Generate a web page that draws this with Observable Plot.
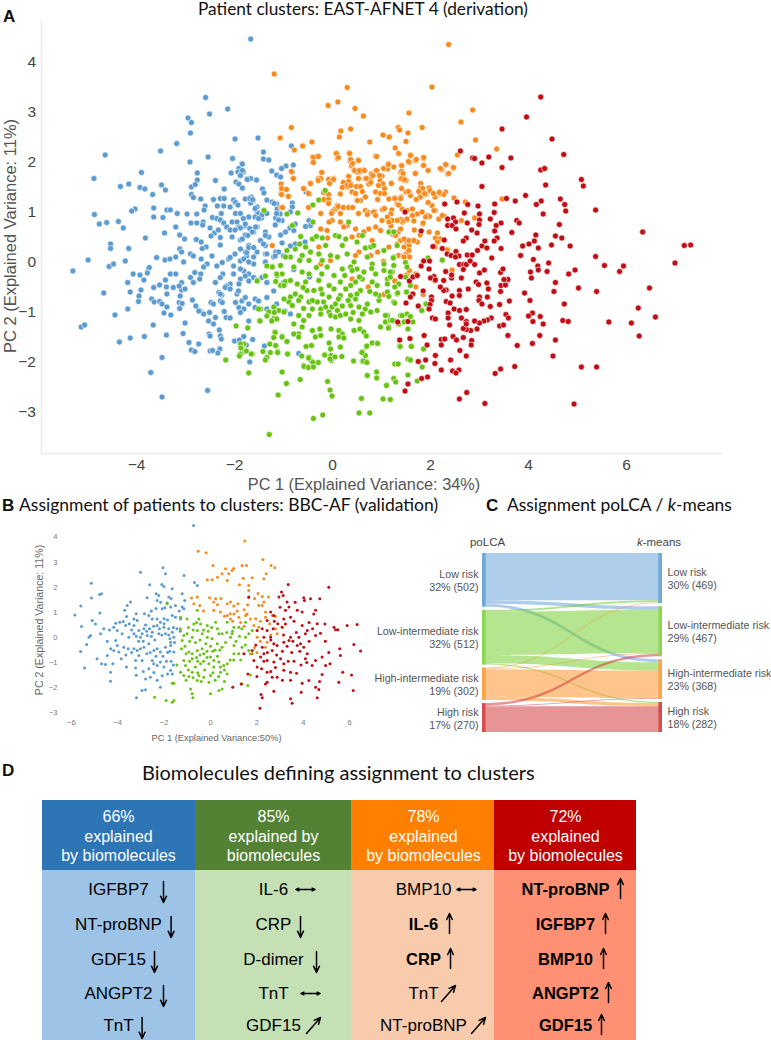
<!DOCTYPE html>
<html><head><meta charset="utf-8">
<script src="https://cdn.jsdelivr.net/npm/d3@7"></script>
<script src="https://cdn.jsdelivr.net/npm/@observablehq/plot@0.6"></script>
<style>
html,body{margin:0;padding:0;background:#fff}
#page{position:relative;width:771px;height:1040px;overflow:hidden;background:#fff}
.t{position:absolute;white-space:nowrap;font-family:Lato,sans-serif;color:#111;line-height:1}
.l{position:absolute;white-space:nowrap;font-family:"Liberation Sans",Arial,sans-serif;font-weight:700;color:#111;line-height:1}
</style></head><body><div id="page">
<div class="l" style="left:3px;top:8px;font-size:17px">A</div>
<div class="t" style="left:198px;top:0px;font-size:17.25px">Patient clusters: EAST-AFNET 4 (derivation)</div>
<div class="l" style="left:2px;top:497px;font-size:17px">B</div>
<div class="t" style="left:19px;top:496px;font-size:17.5px">Assignment of patients to clusters: BBC-AF (validation)</div>
<div class="l" style="left:486px;top:497px;font-size:17px">C</div>
<div class="t" style="left:507px;top:496px;font-size:17.4px">Assignment poLCA / <i>k</i>-means</div>
<div class="l" style="left:2px;top:762px;font-size:17px">D</div>
<div class="t" style="left:142px;top:762px;font-size:20px">Biomolecules defining assignment to clusters</div>
</div>
<script>
// ---------- Panel A: EAST-AFNET 4 (PC1, PC2) ----------
const lowRiskA=[[-1.67,4.47],[-2.59,3.3],[-2.51,2.97],[-2.14,3.07],[-2.95,2.89],[-2.88,2.8],[-2.9,2.59],[-3.18,2.38],[-1.99,2.47],[-1.52,2.49],[-3.51,2.23],[-4.64,2.15],[-2.54,2.11],[-2.91,2.01],[-2.04,2.08],[-1.85,1.98],[-1.41,2.21],[-1.41,2.07],[-1.3,2.05],[-.84,2.33],[-.8,1.95],[-.95,1.93],[-1.04,1.88],[-1.24,1.83],[-.82,1.81],[-1.14,1.75],[-1.06,1.71],[-4.87,1.68],[-3.9,1.8],[-2.76,1.79],[-2.76,1.65],[-2.07,1.79],[-1.91,1.88],[-1.93,1.81],[-1.82,1.81],[-1.88,1.75],[-4.33,1.52],[-4.16,1.57],[-3.93,1.5],[-3.83,1.47],[-3.49,1.55],[-3.41,1.45],[-2.39,1.64],[-1.97,1.61],[-1.91,1.57],[-1.75,1.67],[-1.67,1.68],[-1.56,1.65],[-2.88,1.51],[-2.8,1.56],[-1.84,1.48],[-2.21,1.47],[-3.67,1.36],[-2.88,1.36],[-2.84,1.3],[-2.69,1.27],[-2.43,1.26],[-2.29,1.28],[-2.21,1.28],[-2.02,1.25],[-1.98,1.2],[-1.93,1.15],[-2.6,1.13],[-2.62,1.05],[-2.35,1.13],[-2.22,1.13],[-2.09,1.11],[-1.98,.98],[-1.88,.98],[-2.27,.98],[-2.45,.9],[-2.36,.88],[-2.29,.85],[-2.22,.79],[-2.16,.71],[-2.05,.81],[-1.95,.81],[-1.91,.71],[-1.79,.73],[-1.69,.68],[-1.54,.71],[-1.61,.61],[-3.17,.98],[-3.38,1.05],[-3.31,1.05],[-3.46,.9],[-3.65,.91],[-3.65,1.09],[-4.03,1.07],[-4.1,1.03],[-4.86,.96],[-4.76,.77],[-4.61,.8],[-4.37,.82],[-4.27,.69],[-2.97,.97],[-2.77,.97],[-2.89,.79],[-2.77,.79],[-2.64,.81],[-2.65,.75],[-3.43,.59],[-3.2,.71],[-3.12,.55],[-3.02,.47],[-3.82,.49],[-2.5,.69],[-2.41,.59],[-2.48,.53],[-2.33,.65],[-2.78,.46],[-2.68,.41],[-2.05,.51],[-1.88,.45],[-1.78,.55],[-2.29,.5],[-2.29,.35],[-2.58,.31],[-2.66,.28],[-3.11,.28],[-4.16,.28],[-4.53,.37],[-4.53,.28],[-5.3,-.17],[-4.99,.05],[-4.56,-.08],[-4.47,-.03],[-4.23,.03],[-3.59,.1],[-3.42,.05],[-3.32,.07],[-3.2,.11],[-3.04,.01],[-3.12,.27],[-3.08,.21],[-3.76,-.13],[-3.74,-.1],[-4.07,-.23],[-3.93,-.25],[-3.78,-.21],[-3.85,-.35],[-4.18,-.4],[-4.67,-.61],[-4.13,-.59],[-3.91,-.55],[-3.95,-.67],[-3.96,-.78],[-4.18,-.93],[-4.44,-1.05],[-3.65,-.5],[-3.53,-.45],[-3.41,-.35],[-3.31,-.23],[-3.2,-.23],[-3.39,-.49],[-3.25,-.5],[-3.38,-.63],[-3.69,-.73],[-3.64,-.79],[-3.53,-.78],[-3.48,-.83],[-3.44,-1.01],[-3.3,-1.05],[-3.38,-.89],[-3.13,-.8],[-3.07,-.82],[-3.12,-.92],[-3.11,-.67],[-3.08,-.55],[-3.01,-.53],[-3.08,-.4],[-3.13,-.47],[-5.13,-1.29],[-5.06,-1.25],[-3.66,-1.25],[-4.35,-1.59],[-4.13,-1.51],[-3.84,-1.48],[-3.39,-1.45],[-3.05,-1.42],[-3.01,-1.21],[-2.93,-1.6],[-2.73,-1.63],[-2.88,-1.75],[-2.81,-1.78],[-3.48,-1.9],[-3.71,-2.2],[-3.48,-2.69],[-2.55,-2.56],[-2.5,-1.77],[-2.45,-1.76],[-2.3,-1.73],[-2.34,-1.81],[-2.52,-1.43],[-2.5,-1.47],[-2.31,-1.35],[-2.29,-1.47],[-2.27,-1.53],[-2.43,-1.23],[-2.53,-1.17],[-2.39,-1.1],[-2.51,-1],[-2.7,-.98],[-2.63,-1.03],[-2.21,-.98],[-2.17,-1.1],[-2.09,-1.11],[-2.86,-.75],[-2.79,-.87],[-2.73,-.97],[-2.48,-.8],[-2.43,-.83],[-2.32,-.6],[-2.26,-.65],[-2.29,-.77],[-2.25,-.8],[-2,-1.57],[-1.9,-1.55],[-1.81,-1.48],[-1.76,-1.65],[-1.63,-1.54],[-1.71,-1.17],[-1.84,-1.8],[-1.69,-1.99],[-1.39,-1.67],[-.69,-1.82],[-2.9,.17],[-2.84,.13],[-2.68,.07],[-2.56,-.03],[-2.46,.13],[-2.63,-.09],[-2.81,-.2],[-2.69,-.23],[-2.9,-.3],[-2.84,-.4],[-2.71,-.33],[-2.36,-.07],[-2.25,0],[-2.12,.07],[-2.24,-.23],[-2.29,-.3],[-2.39,-.4],[-2.09,-.43],[-2.16,-.47],[-2.19,-.5],[-2.09,-.53],[-1.88,-.33],[-1.91,-.43],[-1.95,-.63],[-1.85,-.77],[-1.98,-.8],[-1.91,-.9],[-1.81,-.93],[-1.71,-.83],[-1.58,-.73],[-1.51,-.77],[-1.58,-.9],[-1.34,-.93],[-1.34,-.7],[-1.2,-.57],[-1.78,-.7],[-1.88,-1],[-2.29,-.63],[-2.02,-.07],[-1.88,.03],[-1.75,.13],[-1.61,-.03],[-1.81,-.17],[-1.71,-.23],[-1.34,-.4],[-1,-.4],[-.97,-.97],[-1.14,-.83],[-.86,-1.03],[-1.74,1.66],[-1.55,1.65],[-1.84,1.97],[-1.84,1.84],[-1.88,1.74],[-1.43,1.47],[-1.4,1.39],[-1.84,1.49],[-.47,1.37],[-.54,1.41],[-1.78,1.27],[-1.66,1.31],[-1.62,1.24],[-1.67,1.19],[-1.57,1.07],[-1.54,.99],[-1.45,.89],[-1.23,1.21],[-1.14,1.17],[-1.13,1.07],[-1.07,.97],[-1.16,.89],[-1.03,.84],[-1.16,.76],[-.82,1.19],[-.82,1.11],[-.86,1.01],[-.48,.84],[-.45,.74],[-.55,.72],[-.76,.77],[-.87,.69],[-.96,.61],[-.79,.64],[-1.78,.77],[-1.88,.69],[-1.57,.71],[-1.64,.61],[-1.73,.54],[-1.37,.61],[-1.3,.51],[-1.47,.44],[-1.37,.34],[-1.37,.54],[-1.06,.55],[-1.03,.39],[-.76,.37],[-.56,.41],[-1.84,.47],[-1.71,.34],[-1.78,.21],[-1.81,.07],[-1.54,.21],[-1.61,.11],[-1.37,.17],[-1.2,.11],[-1.16,.21],[-1.1,.21],[-1.37,.01],[-1.71,.01],[-.79,-.14],[-.47,-.29],[-1.69,1.28],[-1.63,1.26],[-1.54,1.11],[-1.51,.98],[-1.58,1.08],[-1.44,.95],[-1.34,1.25],[-1.19,1.18],[-1.14,.98],[-1.1,.85],[-1.17,.75],[-1.34,.98],[-1.58,.91],[-1.51,.88],[-2.09,.65],[-1.99,.65],[-1.71,.91],[-1.82,.88],[-1.75,.2],[-1.99,.17],[-1.88,.27],[-1.71,.3],[-2.09,.1],[-1.61,.3],[-1.41,.37],[-1.34,.17],[-1.17,.13],[-1,.13],[-.86,.33],[-2.02,-.23],[-1.88,-.13],[-1.78,-.27],[-1.61,-.3],[-1.44,-.3],[-1.92,-.57],[-1.71,-.37]];
const highInterA=[[-1.19,3.77],[.3,3.5],[-.09,3.14],[.11,3.21],[.46,3.08],[.63,2.93],[-.84,2.7],[.17,2.63],[.37,2.67],[.14,2.51],[-1.07,2.49],[-.42,2.41],[-.61,2.33],[.76,2.41],[1.03,2.55],[1.14,2.51],[-.78,2.25],[.07,2.18],[.1,2.08],[.34,2.19],[.88,2.13],[-.41,2.11],[-.3,2.13],[-.4,2],[.36,2.03],[.53,2.05],[.39,1.93],[.63,1.85],[.55,1.81],[.44,1.85],[1.14,1.98],[.9,1.83],[.84,1.75],[1.01,1.73],[.67,1.68],[.53,1.68],[.77,1.68],[-.22,1.8],[-.29,1.68],[-.08,1.67],[.02,1.68],[-.05,1.6],[-.8,1.68],[-1.05,1.57],[-.46,1.58],[-.59,1.48],[-.49,1.38],[-1.05,1.38],[-.91,1.33],[-1.05,1.1],[.88,1.83],[.97,1.65],[1.03,1.57],[1.12,1.87],[1.25,1.91],[.74,1.57],[.5,1.81],[.37,1.57],[.3,1.51],[.79,1.77],[.4,1.41],[.16,1.37],[.1,1.14],[.06,1.07],[.57,1.24],[.67,1.31],[.5,1.24],[.88,1.41],[1.15,1.27],[1.32,1.17],[1.42,1.07],[1.52,1.04],[1.63,1.07],[1.73,.97],[1.83,1.01],[2.03,1.14],[1.93,.94],[2.1,1.04],[2.31,1.41],[2.2,1.37],[2.37,4.36],[2.03,3.51],[1.56,2.99],[2.86,3.05],[2.62,2.81],[1.83,2.7],[1.34,2.7],[1.37,2.65],[1.54,2.59],[1.16,2.51],[1.5,2.42],[2.92,2.45],[3.35,2.27],[1.28,2.29],[1.35,2.18],[2.55,2.15],[1.6,2.15],[1.57,2],[1.69,2.04],[1.86,2.08],[1.85,1.94],[1.95,1.84],[1.15,1.97],[1.41,1.93],[2.23,1.86],[2.32,1.95],[2.46,1.89],[2.35,1.77],[1.7,1.79],[1.39,1.8],[1.43,1.75],[1.39,1.67],[1.46,1.64],[1.5,1.64],[1.2,1.59],[1.8,1.58],[1.8,1.49],[1.97,1.49],[1.99,1.44],[1.9,1.36],[1.79,1.31],[1.71,1.26],[1.5,1.41],[1.59,1.34],[1.27,1.29],[1.4,1.31],[2.18,1.41],[2.27,1.36],[2.09,1.31],[1.95,1.2],[2.48,1.29],[2.71,1.21],[3.46,1.27],[1.35,1.15],[1.21,1.05],[1.19,.97],[2.07,1.04],[1.98,.92],[1.9,.91],[1.63,.94],[2.28,.93],[2.17,.86],[1.39,.86],[1.52,.85],[1.66,.83],[1.43,.81],[1.22,.84],[2.63,.84],[2.9,.89],[1.97,.61],[1.67,.65],[1.84,.77],[2.14,.59],[1.79,.55],[2.1,.49],[2.2,.47],[2.14,.41],[1.19,.73],[1.22,.57],[1.34,.61],[1.29,.54],[1.39,.44],[1.52,.39],[1.65,.44],[1.73,.41],[2.1,.31],[2.35,.26],[2.09,.31],[2.34,.25],[2.44,-.15],[2.09,-.37],[1.85,-.64],[1.7,-.49],[1.7,-.23],[1.51,-.25],[1.57,-.16],[1.49,.31],[1.5,.17],[1.56,.34],[1.35,.14],[1.44,.13],[1.57,.11],[1.27,-.36],[-.39,2.1],[-.29,2.12],[-.39,2],[.08,2.18],[.12,2.1],[.35,2.18],[.37,2.06],[.41,1.98],[.53,2.04],[.9,2.12],[1.59,2.14],[1.71,2.06],[1.86,2.1],[1.86,1.94],[1.55,2.02],[1.41,1.94],[1.14,1.96],[1.04,1.88],[.45,1.84],[.55,1.84],[.65,1.84],[.9,1.84],[.82,1.74],[.96,1.74],[1.41,1.82],[1.44,1.78],[1.41,1.68],[1.47,1.66],[1.69,1.78],[2.31,1.96],[2.2,1.88],[2.37,1.78],[2.47,1.9],[-.22,1.8],[-.24,1.68],[-.29,1.64],[-.45,1.58],[-.08,1.66],[.02,1.66],[-.06,1.58],[.33,1.72],[.22,1.6],[.33,1.62],[.29,1.54],[.2,1.5],[.37,1.54],[.69,1.68],[.78,1.6],[.49,1.52],[.57,1.52],[.61,1.42],[.47,1.38],[1.2,1.58],[.94,1.54],[1.06,1.48],[.98,1.38],[1.06,1.38],[.92,1.26],[1.41,1.48],[1.27,1.28],[1.39,1.28],[1.84,1.48],[1.76,1.42],[1.55,1.42],[1.88,1.38],[2.06,1.38],[2.18,1.4],[-1.04,1.48],[-.94,1.46],[-1.04,1.36],[-.9,1.32],[-.84,1.82],[-.8,1.68],[-.59,1.48],[-.18,1.4],[-.08,1.36],[-.18,1.26],[-.08,1.26],[-.08,1.18],[.12,1.12],[.22,1.1],[.33,1.1],[.51,1.24],[.41,1.1],[0,1.02],[.53,.98],[.67,1.04],[.73,1],[.86,1.02],[1.02,1.06],[1.06,1.08],[-.49,1.1],[-.24,.98],[-.02,.98],[.16,.98],[-1.02,1.1],[.71,.96],[.84,1.01],[.88,.94],[1.01,.84],[1.12,.91],[1.15,.81],[1.32,.84],[1.46,.84],[1.52,.87],[1.85,.79],[2.17,.87],[2.24,.94],[1.39,.67],[1.18,.61],[.98,.64],[.88,.71],[.74,.67],[.64,.61],[.47,.67],[.3,.74],[.23,.71],[.16,.81],[-.01,.84],[-.07,.81],[-.11,.64],[-.24,.67],[.4,.51],[.54,.54],[.81,.44],[1.15,.31],[1.32,.37],[1.46,.47],[1.56,.44],[1.66,.44],[1.46,.31],[1.56,.24],[1.46,.11],[.54,.21],[.47,.14],[-.04,.04],[-.24,-.03],[-.1,.49],[-.28,.31],[-1.23,.34],[.4,-.33],[1.05,-.64],[.73,-.49],[1.27,-.37],[1.04,.02],[.78,.14],[.92,.21]];
const lowInterA=[[-1.4,1.04],[-.93,.97],[-.71,.99],[-.82,.74],[-.4,1.15],[-.28,1.25],[-.15,1.44],[.33,.81],[-.4,.81],[-.65,.52],[-.76,.27],[-.67,.37],[-.55,.31],[-.41,.47],[-.33,.52],[-.21,.49],[-.14,.34],[.06,.54],[.13,.52],[.2,.34],[.27,.47],[.5,.41],[.61,.54],[.67,.29],[.78,.31],[.84,.34],[1.15,.61],[1.25,.61],[1.05,.24],[1.25,.11],[1.32,.34],[1.95,.09],[2.24,.04],[-.93,.24],[-.86,.11],[-.62,.14],[-.45,.21],[-.28,.17],[-.04,.14],[.1,.11],[.3,.17],[.44,.01],[-.21,.04],[-.48,.04],[-1.23,-.08],[-1.06,-.06],[-.96,.11],[-.67,.04],[.71,.11],[.81,-.03],[1.05,-.03],[-1.23,-.09],[-1.03,-.23],[-1.13,-.26],[-.79,-.09],[-.62,-.19],[-.48,-.23],[-.11,-.09],[.03,-.26],[.2,-.13],[.37,-.09],[.5,-.13],[.64,-.19],[.88,-.23],[1.05,-.16],[1.22,-.19],[-1.54,-.35],[-1.16,-.38],[-1.06,-.46],[-.96,-.38],[-.99,-.46],[-.86,-.36],[-.72,-.43],[-.55,-.39],[-.28,-.36],[-.07,-.46],[.03,-.53],[.16,-.39],[.37,-.46],[.47,-.39],[.61,-.33],[.81,-.39],[.91,-.46],[1.12,-.33],[1.35,-.43],[1.32,-.63],[-1.47,-.93],[-1.3,-.99],[-1.2,-1.12],[-1.1,-.96],[-.99,-.99],[-.86,-.69],[-.76,-.63],[-.65,-.69],[-.89,-.79],[-.69,-.76],[-.59,-.92],[-.48,-.79],[-.41,-.93],[-.31,-.79],[-.21,-.63],[-.18,-.79],[-.24,-.93],[-.24,-1.03],[-.14,-.89],[-.07,-.99],[-.01,-.89],[.06,-.83],[.1,-.96],[.16,-.66],[-.07,-.69],[-.04,-1.06],[.06,-1.09],[.16,-1.06],[.27,-1.03],[.37,-.86],[.47,-.73],[.54,-.89],[.67,-.93],[.71,-.83],[.61,-1.03],[.37,-1.13],[.54,-1.16],[.78,-.99],[.95,-.76],[1.12,-1.06],[1.25,-1.16],[1.39,-1.06],[1.08,-1.19],[.98,-1.29],[1.15,-1.29],[1.25,-.79],[1.83,-.96],[1.9,-.83],[-.69,-1.06],[-.59,-1.16],[-.48,-1.06],[-.79,-1.23],[-.62,-1.29],[-.41,-1.36],[-.26,-1.33],[-.69,-1.43],[-.79,-1.43],[-.69,-1.49],[-.35,-1.49],[-.24,-1.46],[-.03,-1.33],[.13,-1.36],[.2,-1.43],[.13,-1.49],[.23,-1.51],[.44,-1.36],[.56,-1.33],[.64,-1.39],[.69,-1.47],[-.07,-1.61],[-.43,-1.66],[-.54,-1.68],[-.04,-1.73],[.16,-1.69],[-.16,-1.84],[-.03,-1.86],[-.03,-1.96],[.61,-1.79],[.69,-1.69],[.81,-1.61],[.91,-1.61],[.67,-1.86],[.61,-1.98],[.69,-1.98],[-1.18,-1.39],[-1.2,-1.49],[-1.03,-1.47],[-1.28,-1.63],[-1.16,-1.66],[-.93,-1.58],[-1.42,-1.78],[-1.12,-1.78],[-.91,-1.83],[-.59,-2.06],[-.48,-2.09],[-.39,-2.05],[-.29,-2],[-.48,-1.89],[-.44,-1.96],[1.37,-1.67],[1.61,-1.67],[1.86,-1.73],[-1.49,-1.16],[-1.73,-1.3],[-1.81,-1.63],[-1.86,-1.69],[-1.64,-1.83],[-1.88,-1.83],[.91,-.96],[1.08,-1.06],[1.18,-1.16],[1.46,-1.19],[1.52,-1.03],[1.59,-.46],[1.49,-.29],[1.12,-.59],[.95,-.66],[.57,-.56],[.37,-.66],[.88,-.63],[.76,-.58],[.5,-.63],[.27,-.53],[-.38,-.56],[-.52,-.56],[-.24,-.53],[-.41,-.76],[-.82,-.86],[-.99,-.73],[-1.2,-.89],[1.24,.09],[1.95,.09],[2.24,.05],[1.42,-1.06],[1.59,-1.08],[1.64,-1.19],[1.35,-1.23],[1.22,-1.16],[1.14,-1.31],[1.54,-1.33],[1.82,-.96],[1.91,-.83],[1.51,-.59],[1.33,-.61],[1.15,-.68],[1.27,-.81],[1.38,-1.68],[1.61,-1.68],[1.86,-1.73],[1.27,-2.03],[1.34,-2.03],[1.54,-1.93],[1.59,-1.95],[1.83,-2.09],[1.54,-2.25],[1.73,-2.37],[1.25,-2.32],[1.29,-2.39],[1.11,-2.45],[1.35,-.43],[1.27,-.49],[1.18,-.19],[1.18,-.29],[1.12,-.43],[1.25,-.06],[1.49,0],[1.52,-.09],[-1.97,-1.27],[-1.73,-1.31],[-1.51,-.93],[-1.48,-1.17],[-1.34,-1.07],[-1.19,-1],[-1.14,-1.13],[-1.24,-1.17],[-1.17,-1.4],[-1.2,-1.5],[-1.03,-1.49],[-.93,-1.58],[-1.34,-1.9],[-1.27,-1.8],[-1.37,-1.95],[-1.12,-1.8],[-.92,-1.83],[-.63,-1.87],[-.49,-1.91],[-.4,-2],[-.58,-2.08],[-.49,-2.1],[-.39,-2.09],[-.16,-1.85],[-.05,-1.93],[.05,-1.89],[.19,-1.88],[.43,-1.97],[.6,-1.8],[.7,-1.67],[.92,-1.62],[.63,-1.97],[.7,-2],[-1.88,-1.63],[-1.76,-1.77],[-1.87,-1.71],[-1.54,-.37],[-1.37,-.27],[-1.34,-.07],[-1.14,-.23],[-1.29,-3.44],[-.39,-3.12],[-.2,-3.05],[-1.11,-2.65],[-.94,-2.42],[-.66,-2.34],[-1.03,-2.19],[-1.71,-2.21],[-2.18,-1.95],[-1.9,-1.87],[-1.66,-1.83],[-.1,-2.38],[-.05,-2.55],[-.01,-2.67],[.54,-3.01],[.76,-3.01],[.59,-2.72],[.71,-2.26],[.9,-2.19],[.9,-2.31],[1.1,-2.46],[1.03,-2.73],[1.18,-2.74],[.4,-.16],[.55,-.29],[.25,-.26],[.8,-.12],[-.33,-.1],[-.22,-.23],[-.6,-.5],[.12,-.73],[.32,-.76],[.42,-1.0],[.2,-.87]];
const highRiskA=[[4.25,3.31],[3.96,2.91],[3.46,2.67],[4.48,2.47],[4.72,2.16],[2.61,2.23],[2.86,2.09],[2.9,2.08],[3.05,1.99],[3.19,2.11],[3.64,2.09],[3.46,1.9],[4.25,1.85],[4.33,1.88],[5.08,1.66],[5.12,1.53],[4.35,1.55],[3.05,1.52],[3.94,1.34],[3.55,1.28],[3.73,1.23],[4.16,1.16],[4.26,1.23],[4.65,1.27],[4.74,1.16],[4.76,1.03],[4.3,.97],[5.37,1.05],[4.63,.76],[6.33,.61],[4.55,.53],[4.68,.49],[4.15,.55],[3.66,.6],[3.76,.84],[3.81,.79],[3.44,.79],[3.34,.74],[3.31,.63],[3.22,.87],[3.31,1.17],[3.3,1],[3,.97],[3,.85],[2.99,.76],[2.97,1.13],[2.76,1.16],[2.54,1.21],[2.69,.99],[2.29,1.17],[2.35,.87],[2.47,.89],[2.51,.81],[2.35,.74],[2.44,.74],[2.52,.67],[2.75,.79],[2.84,.65],[2.95,.59],[2.28,.45],[2.73,.49],[2.67,.43],[3.11,.43],[3.36,.49],[3.3,.43],[3.05,.33],[3.15,.29],[3.44,.28],[3.88,.33],[4.01,.37],[4.12,.43],[4.2,.29],[4.47,.35],[4.85,.33],[7.18,.34],[7.31,.35],[1.48,1.01],[1.81,.63],[2.05,.32],[2.24,.28],[6.99,-.01],[6.47,-.51],[5.94,-.07],[5.86,-.18],[5.55,-.06],[5.37,.12],[4.95,-.15],[4.82,-.23],[5.02,-.51],[5.39,-.58],[6.24,-.91],[6.59,-1.09],[6.1,-1.21],[6.26,-1.47],[5.64,-1.19],[4.7,-1.16],[4.81,-1.18],[4.73,-.83],[4.55,-.4],[4.52,-.58],[4.41,-.01],[4.38,-.18],[4.19,-.07],[4.2,-.15],[4.1,.06],[4.04,-.19],[4.06,-.31],[3.84,.14],[3.92,-.61],[4.03,-.76],[4.08,-1.01],[4,-1.07],[4.09,-1.18],[4.24,-1.08],[4.3,-1.23],[4.23,-1.46],[4.55,-1.55],[4.08,-1.62],[4.5,-1.87],[3.77,-1.66],[3.58,-1.46],[3.41,-1.27],[3.49,-1.25],[3.54,-1.04],[3.59,-1.11],[3.61,-.77],[3.41,-.84],[3.22,-.88],[3.24,-1.11],[3.16,-1.15],[3.09,-1.17],[3,-1.21],[2.9,-1.17],[2.95,-1.33],[2.82,-1.36],[2.73,-1.34],[2.67,-1.32],[2.73,-1.18],[2.73,-1.23],[2.73,-.94],[2.59,-.96],[2.48,-.93],[2.63,-1.11],[2.39,-1.25],[2.36,-1.01],[2.36,-1.11],[2.32,-.78],[2.4,-.81],[2.44,-.67],[2.59,-.56],[2.59,-.66],[2.77,-.53],[2.32,-.55],[2.27,-.56],[2.2,-.49],[2.27,-.36],[2.43,-.31],[2.63,-.31],[2.31,-.18],[2.43,-.25],[2.07,-.28],[2,-.31],[2.1,-.35],[1.97,-.13],[1.81,-.07],[1.86,.03],[1.98,.03],[1.39,-.28],[1.57,-.37],[1.64,-.29],[1.73,-.26],[3,-.21],[3.1,-.15],[2.93,-.39],[2.98,-.44],[3.15,-.41],[3.18,-.53],[3.43,-.2],[3.48,-.13],[3.43,-.58],[3.44,-.46],[3.53,-.45],[3.58,-.34],[3.5,-.34],[3,-.69],[2.99,-.76],[3.05,-.83],[3.16,-.69],[2.59,-.04],[2.68,-.04],[2.73,-.04],[2.81,.03],[2.9,-.04],[2.67,-.14],[2.75,.15],[2.85,.15],[2.96,.24],[3.25,.09],[2.34,.17],[2.42,.14],[2.52,.22],[2.58,.13],[2.51,.11],[1.85,-.57],[2.02,-.69],[2.02,-.76],[1.99,-.84],[1.97,-.93],[1.75,-.87],[1.5,-.81],[1.64,-.63],[1.59,-.69],[1.33,-1.19],[1.54,-1.18],[1.37,-1.55],[1.58,-1.52],[1.87,-1.46],[1.93,-1.65],[2.04,-1.11],[2.1,-1.13],[2.22,-1.54],[2.29,-1.53],[2.22,-1.65],[2.46,-1.48],[2.53,-1.55],[2.67,-1.5],[2.84,-1.56],[2.83,-1.65],[2.6,-1.76],[2.73,-1.87],[2.1,-1.86],[2.41,-1.95],[2.09,-2.02],[1.9,-1.95],[1.75,-1.98],[2.22,-2.15],[2.45,-2.17],[2.58,-2.15],[2.52,-2.21],[1.82,-2.32],[1.94,-2.29],[1.54,-2.43],[1.48,-2.57],[2.74,-2.6],[2.59,-2.73],[3.11,-2.82],[4.93,-2.83],[3.32,-2.22],[3.43,-2.13],[3.72,-2.08],[5.08,-2.09],[5.39,-2.09]];

// ---------- Panel B: BBC-AF (PC1, PC2) ----------
const lowRiskB=[[-.73,4.46],[-5.14,2.16],[-4.78,1.71],[-4.7,1.74],[-5.13,1.57],[-5.59,1.25],[-5.85,.9],[-4.77,.98],[-5.1,.68],[-4.96,.54],[-5.56,.44],[-4.6,.35],[-4.74,.15],[-5.17,.08],[-5.24,.01],[-5.34,-.28],[-5.6,-.56],[-5.43,-1.22],[-4.89,-.85],[-4.7,-1.05],[-4.53,-1.08],[-4.45,-.72],[-4.31,-1.38],[-4.21,-1.05],[-4.31,-1.74],[-3.62,-1.18],[-3.23,-1.22],[-3.19,-2.4],[-2.95,-2.11],[-2.8,-2.08],[-3.02,2.6],[-2.62,2.1],[-2.05,2.78],[-1.94,2.54],[-1.14,2.47],[-2.1,2.11],[-2.01,2.03],[-1.65,1.94],[-.69,2.19],[-.57,2.07],[-2.34,1.74],[-2.23,1.67],[-2.3,1.47],[-2.73,1.58],[-1.22,1.74],[-1.11,1.47],[-1.22,1.21],[-1.8,1.61],[-1.87,1.37],[-1.51,1.27],[-2.08,1.14],[-1.97,1.18],[-1.72,1.21],[-3.45,1.41],[-3.59,1.27],[-3.7,1.08],[-4.09,.57],[-3.91,.61],[-3.76,.64],[-4.17,.41],[-4.02,.28],[-3.66,.48],[-3.62,.84],[-3.3,.74],[-3.16,.68],[-2.66,.88],[-2.51,.74],[-2.3,.74],[-2.16,.61],[-1.65,.88],[-1.51,.81],[-1.29,.74],[-1.15,1.14],[-3.3,.48],[-3.09,.28],[-2.87,.35],[-2.63,.35],[-2.3,.48],[-2.01,.41],[-1.8,.35],[-1.65,.21],[-1.58,.01],[-1.72,-.19],[-1.94,.15],[-2.23,.15],[-2.51,.21],[-2.73,.08],[-3.02,.01],[-3.3,.15],[-3.52,.01],[-3.81,.15],[-4.09,-.12],[-4.02,-.32],[-4.17,-.52],[-3.74,-.39],[-3.95,-.58],[-3.3,-.45],[-3.16,-.52],[-3.02,-.45],[-2.87,-.39],[-3.09,-.72],[-3.23,-.92],[-2.95,-.92],[-2.66,-.25],[-2.44,-.52],[-2.3,-.45],[-2.16,-.58],[-1.94,-.39],[-1.72,-.32],[-1.58,-.58],[-2.51,-.92],[-2.16,-.98],[-2.66,-1.25],[-2.3,-1.12],[-2.01,-1.18],[-1.72,-1.31],[-1.65,-1.45],[-2.44,-1.39],[-2.08,-1.52],[-2.59,-1.58],[-2.16,-1.98],[-2.8,-1.65],[-3.5,.55],[-3.4,.3],[-3.2,.05],[-3.1,-.15],[-2.95,.15],[-2.8,.5],[-2.75,.25],[-2.55,.05],[-2.45,.45],[-2.4,-.1],[-2.2,.35],[-2.1,.1],[-2,.75],[-1.85,.7],[-1.8,.1],[-1.75,-.05],[-1.6,.4],[-1.55,-.2],[-1.85,-.6],[-1.75,-.55],[-2.05,-.75],[-2.35,-.75],[-2.6,-.6],[-2.75,-.65],[-2.9,-.15],[-3.4,-.6],[-3.55,-.45],[-3.65,-.7],[-3.2,-1.5],[-2.9,-1.35],[-2.45,-1.05],[-1.9,-.95],[-1.7,-.95],[-1.6,-1.1],[-1.85,-1.45],[-2.3,-1.7],[-2.35,1.15],[-2.55,1.05],[-2.85,.95],[-2,.55],[-1.45,.35],[-1.35,1.05],[-4.35,.3],[-4.45,-.15],[-4.3,-.45],[-3.85,-.85],[-3.2,.95],[-2.15,1.4],[-1.7,1.55],[-1.3,.25]];
const lowInterB=[[-1.87,1.34],[-1.29,.81],[-1.01,.74],[-.57,1.08],[-.5,.74],[-.72,.54],[-.43,.54],[-.14,.48],[.22,.61],[.72,.61],[1.01,.41],[1.22,.41],[1.51,.61],[-1.15,.08],[-1.22,-.12],[-1.01,.15],[-.79,.01],[-.57,.28],[-.36,.15],[-.14,.01],[.07,-.05],[.36,.15],[.29,-.25],[.5,-.39],[.86,.01],[.93,.15],[1.01,-.32],[1.36,-.39],[1.65,.15],[1.8,.28],[1.51,.01],[-.93,-.58],[-.79,-.65],[-.57,-.52],[-.36,-.45],[-.29,-.65],[0,-.78],[.14,-.92],[.36,-.98],[.57,-1.12],[.72,-1.05],[-.79,-.85],[-1.15,-.92],[-1.08,-1.12],[-.65,-1.18],[-.43,-1.05],[-.07,-1.05],[.14,-1.18],[.43,-1.18],[-.79,-1.38],[-.5,-1.51],[-.29,-1.58],[0,-1.51],[.43,-1.38],[.72,-1.45],[-1.29,-1.38],[-1.15,-1.51],[-.93,-1.55],[-.57,-1.71],[-.07,-1.78],[.5,-2.05],[.36,-2.11],[-1.65,-1.82],[-1.58,-1.82],[-.86,-2.05],[-.79,-2.24],[-.76,-2.4],[0,-2.24],[-2.41,-2.38],[-1.91,-2.51],[-1.58,-2.51],[-1.65,-2.58],[1.01,-.65],[1.65,-.52],[1.8,-.65],[1.36,-1.85],[1.61,-1.91],[1.72,-1.49],[1.22,-.65],[-1.3,.35],[-.95,.4],[-.75,.3],[-.6,.6],[-.3,.3],[-.1,.25],[.05,.4],[.3,.35],[.5,.15],[.7,.2],[.65,-.2],[.4,-.5],[.2,-.5],[0,-.35],[-.2,-.25],[-.45,-.1],[-.65,-.2],[-.9,-.15],[-1.1,-.35],[-1.25,-.45],[-1.05,-.65],[-.6,-.8],[-.45,-.7],[-.15,-.55],[.1,-.55],[.3,-.75],[-.15,-.8],[-.3,-.95],[-.55,-.95],[-.9,-.95],[-.95,-1.3],[-.55,-1.4],[-.25,-1.3],[.1,-1.4],[.35,-1.55],[.6,-1.3],[-1.45,-1.1],[-1.05,-1.7],[-.75,-1.6],[-.4,-1.75],[.2,-1.7],[.6,-1.75],[.85,-.9],[1.1,-.15],[1.25,.05],[1,-.9],[1.3,-.9],[1.5,-.3],[1.35,.35],[.95,.25]];
const highInterB=[[-.53,3.43],[-.19,3.37],[1.48,3.84],[.11,2.87],[1.36,2.87],[1.55,2.87],[2.26,3.11],[2.61,2.87],[2.77,2.78],[.65,2.74],[.93,2.67],[.79,2.54],[.5,2.54],[-.14,2.3],[.07,2.3],[2.4,2.54],[2.3,2.34],[1.8,2.38],[1.65,2.07],[.72,2.27],[1.41,2.36],[-.82,1.57],[-.57,1.61],[-.72,1.34],[-.46,1.27],[-.04,1.58],[.22,1.54],[.14,1.41],[.72,1.34],[.86,1.41],[1.18,1.34],[1.65,1.87],[1.65,1.58],[2.23,1.63],[2.5,1.61],[2.3,1.41],[2.08,1.27],[2.23,1.27],[.14,1.08],[.43,1.01],[1.01,.94],[1.22,.81],[.72,.88],[.86,.74],[1.51,.88],[1.72,.74],[1.58,.94],[2.37,1.01],[2.37,.81],[2.66,.88],[2.8,.84],[1.87,.48],[2.08,.41],[2.8,.35],[2.87,.15],[2.01,.01],[2.44,-.19],[2.37,-.39],[1.72,-.65],[1,2.75],[.3,2.4],[1.25,2.1],[2.05,1.75],[1.6,1.3],[1.9,1.55],[1,1.25],[.45,1.55],[.6,.85],[.95,.65],[1.3,.6],[1.45,1.1],[1.95,.75],[2.15,.65],[2.55,.55],[2.15,-.15],[2.6,.1],[1.9,-.4],[2,-.6],[.3,1.3],[-.3,1.05],[1.15,1.05],[.85,.95],[1.45,.45]];
const highRiskB=[[5.1,2],[3.35,2.11],[3.06,1.81],[3.13,1.67],[2.95,1.61],[3.3,1.41],[3.38,1.21],[3.23,1.08],[4.02,1.58],[4.31,1.54],[4.71,1.54],[4.05,1.47],[1.65,1.61],[4.53,1.08],[4.45,.94],[3.74,1.08],[3.95,1.01],[3.45,.81],[3.16,.74],[2.59,1.01],[2.73,.88],[2.44,.68],[2.23,.35],[2.01,.28],[4.93,.54],[5.32,.41],[5.39,.31],[5.49,.31],[5.89,.48],[6.32,.52],[4.17,.28],[4.09,.15],[4.53,.08],[4.74,.17],[3.95,.48],[3.09,.41],[3.23,.54],[2.44,.28],[2.3,.01],[2.59,.01],[2.87,-.32],[3.16,-.19],[3.45,.01],[3.38,-.12],[3.81,.01],[3.88,-.25],[4.02,-.39],[3.74,-.32],[4.17,-.65],[4.09,-.85],[4.38,-1.12],[4.53,-.92],[4.81,-.78],[5.57,-.45],[5.6,-.72],[6.18,-.28],[6.47,-.54],[4.96,-1.12],[4.81,-1.47],[5.7,-1.38],[6.08,-1.49],[5.53,-1.78],[6.15,-2.11],[3.95,-1.82],[4.24,-1.71],[4.53,-1.98],[4.67,-2.07],[4.6,-2.4],[3.91,-2.18],[3.45,-1.38],[3.71,-1.42],[3.16,-1.31],[2.87,-1.58],[2.66,-1.58],[2.44,-1.78],[2.37,-1.85],[2.73,-2.14],[2.18,-2.27],[2.23,-2.4],[2.13,-2.82],[3.45,-2.44],[3.52,-2.62],[.96,-1.98],[1.32,-1.85],[1.61,-1.45],[1.87,-.92],[2.01,-1.18],[2.16,-.78],[2.44,-.92],[2.73,-.98],[3.02,-.85],[3.16,-1.05],[2.73,-.25],[2.66,-.52],[2.23,-.39],[2.3,-.65],[2.44,-1.38],[1.8,-.52],[1.44,-.65],[3.6,.65],[3.7,.2],[3.55,-.15],[3.3,-.35],[3.15,.1],[2.9,.55],[2.7,.35],[2.6,-.1],[2.45,-.6],[2.85,-.7],[3.1,-.55],[3.5,-.6],[3.85,-.55],[4.25,-.15],[4.4,.35],[4.25,.6],[3.6,-.95],[3.35,-.95],[3.9,-1.1],[4.15,-1],[3.45,-1.7],[3.1,-1.7],[2.8,-1.2],[2.6,-1.35],[2.2,-1.25],[2,-1.55],[2.3,-.95],[1.95,-.3],[3.65,1.4],[3,1.2],[2.75,.65],[4.6,.55],[4.95,-.15],[5.1,-.6],[5.15,-1.05],[4.7,-1.75]];

// ---------- Panel C: poLCA / k-means ----------
const riskGroups=["Low risk","Low-intermediate risk","High-intermediate risk","High risk"];
const poLCACounts=[502,512,302,270];
const kmeansCounts=[469,467,368,282];
const poLCAPct=[32,32,19,17];
const kmeansPct=[30,29,23,18];
const flowMatrix=[[442,33,27,0],[18,405,78,11],[9,7,257,29],[0,22,6,242]];

// ---------- Panel D ----------
const explained=["66%\nexplained\nby biomolecules","85%\nexplained by\nbiomolecules","78%\nexplained\nby biomolecules","72%\nexplained\nby biomolecules"];
const markers=[["IGFBP7","NT-proBNP","GDF15","ANGPT2","TnT"],["IL-6","CRP","D-dimer","TnT","GDF15"],["BMP10","IL-6","CRP","TnT","NT-proBNP"],["NT-proBNP","IGFBP7","BMP10","ANGPT2","GDF15"]];
const directions=[["down","down","down","down","down"],["both","down","down","both","rise"],["both","up","up","rise","rise"],["up","up","up","up","up"]];
const emphasis=[[0,0,0,0,0],[0,0,0,0,0],[0,1,1,0,0],[1,1,1,1,1]];

// Colours and layout options
const clusterColors=["#5b9bd0","#67c211","#f68a1e","#c00d14"];
const headColors=["#2e75b6","#548235","#ff8000","#c00000"];
const bodyColors=["#9dc3e6","#c5e0b4","#f8cbad","#ff9073"];
const flowColors=["#5b9bd5","#6ccb20","#fb8a18","#cf2a30"];
const nodeColors=["#6ea9da","#8ed553","#fca34c","#d84c50"];
const colEdges=[42,195,351,494,636];
const colCentres=[118,273,423,565];
const rowCentres=[889,924,959,993,1025];
const arrowCols=[[163,170.6,154,163,141.6],[305,300,316,310,313],[466,449,450,448,478],[620,605,603,608,601]];
const sans='"Liberation Sans",Arial,sans-serif';
const page=document.getElementById("page");
const put=(svg,left,top)=>{svg.style.position="absolute";svg.style.left=left+"px";svg.style.top=top+"px";svg.style.background="transparent";svg.style.maxWidth="none";page.appendChild(svg);};

// A
const dotsOf=(rows,color,r,stroke)=>Plot.dot(rows,{x:d=>d[0],y:d=>d[1],r,fill:color,stroke:stroke?"white":"none",strokeWidth:stroke?0.6:0});
put(Plot.plot({width:771,height:494,marginLeft:41,marginRight:49,marginTop:20,marginBottom:41,
  style:{fontFamily:sans},
  x:{domain:[-5.94,7.96]},y:{domain:[-3.82,4.84]},
  marks:[
    Plot.ruleX([-5.94],{stroke:"#ebebeb",strokeWidth:1.5}),
    Plot.ruleY([-3.82],{stroke:"#ebebeb",strokeWidth:1.5}),
    Plot.axisX({ticks:[-4,-2,0,2,4,6],tickSize:0,tickPadding:5,fontSize:15.5,fill:"#444",label:null}),
    Plot.axisY({ticks:[-3,-2,-1,0,1,2,3,4],tickSize:0,tickPadding:5.5,fontSize:15.5,fill:"#444",label:null}),
    dotsOf(lowRiskA,clusterColors[0],3,true),
    dotsOf(highInterA,clusterColors[2],3,true),
    dotsOf(lowInterA,clusterColors[1],3,true),
    dotsOf(highRiskA,clusterColors[3],3,true),
    Plot.text(["PC 1 (Explained Variance: 34%)"],{frameAnchor:"bottom",dx:-18,dy:36,fontSize:16.3,fill:"#555"}),
    Plot.text(["PC 2 (Explained Variance: 11%)"],{frameAnchor:"left",textAnchor:"middle",rotate:-90,dx:-31,dy:-1,fontSize:16.5,fill:"#555"})
  ]}),0,0);

// B
put(Plot.plot({width:370,height:225,marginLeft:60,marginRight:10,marginTop:3,marginBottom:27,
  style:{fontFamily:sans},
  x:{domain:[-6.466,6.466]},y:{domain:[-3.227,4.54]},
  marks:[
    Plot.axisX({ticks:[-6,-4,-2,0,2,4,6],tickSize:0,tickPadding:1,fontSize:7.5,fill:"#777",label:null}),
    Plot.axisY({ticks:[-3,-2,-1,0,1,2,3,4],tickSize:0,tickPadding:3,fontSize:7.5,fill:"#777",label:null}),
    dotsOf(lowRiskB,clusterColors[0],1.5,false),
    dotsOf(highInterB,clusterColors[2],1.5,false),
    dotsOf(lowInterB,clusterColors[1],1.5,false),
    dotsOf(highRiskB,clusterColors[3],1.5,false),
    Plot.text(["PC 1 (Explained Variance:50%)"],{frameAnchor:"bottom",dx:6,dy:22,fontSize:9.3,fill:"#666"}),
    Plot.text(["PC 2 (Explained Variance: 11%)"],{frameAnchor:"left",textAnchor:"middle",rotate:-90,dx:-21,dy:-1,fontSize:10.6,fill:"#666"})
  ]}),0,520);

// C
const gap=30;
const stackNodes=(counts)=>{let y=0;return counts.map((n,i)=>{const o={i,y0:y,y1:y+n};y+=n+gap;return o;});};
const leftNodes=stackNodes(poLCACounts),rightNodes=stackNodes(kmeansCounts);
const ribbons=[];
const outPos=leftNodes.map(n=>n.y0),inPos=rightNodes.map(n=>n.y0);
flowMatrix.forEach((row,s)=>row.forEach((v,t)=>{
  if(!v)return;
  const id=s+"-"+t;
  ribbons.push({id,s,x:0,y1:outPos[s],y2:outPos[s]+v});
  ribbons.push({id,s,x:1,y1:inPos[t],y2:inPos[t]+v});
  outPos[s]+=v;inPos[t]+=v;
}));
const labelOf=(i,pct,cnt)=>`${riskGroups[i]}\n${pct[i]}% (${cnt[i]})`;
put(Plot.plot({width:401,height:210,marginLeft:112,marginRight:109,marginTop:23,marginBottom:8,
  style:{fontFamily:sans},
  x:{domain:[0,1],axis:null},y:{domain:[0,1676],reverse:true,axis:null},
  color:{domain:[0,1,2,3],range:flowColors},
  marks:[
    Plot.area(ribbons,{x1:"x",y1:"y1",y2:"y2",z:"id",fill:"s",fillOpacity:0.5,curve:"bump-x"}),
    Plot.rect(leftNodes,{x1:()=>0,x2:()=>0.02,y1:"y0",y2:"y1",fill:d=>nodeColors[d.i]}),
    Plot.rect(rightNodes,{x1:()=>0.98,x2:()=>1,y1:"y0",y2:"y1",fill:d=>nodeColors[d.i]}),
    Plot.text(leftNodes,{x:()=>0,y:d=>(d.y0+d.y1)/2,text:d=>labelOf(d.i,poLCAPct,poLCACounts),textAnchor:"end",dx:-4,lineHeight:1.2,fontSize:10.7,fill:"#555"}),
    Plot.text(rightNodes,{x:()=>1,y:d=>(d.y0+d.y1)/2,text:d=>labelOf(d.i,kmeansPct,kmeansCounts),textAnchor:"start",dx:5,lineHeight:1.2,fontSize:10.7,fill:"#555"}),
    Plot.text(["poLCA"],{x:()=>0.028,frameAnchor:"top",dy:-16,fontSize:11.5,fill:"#444"}),
    Plot.text(["k"],{x:()=>0.89,frameAnchor:"top",dy:-16,textAnchor:"end",fontStyle:"italic",fontSize:11.5,fill:"#444"}),
    Plot.text(["-means"],{x:()=>0.89,frameAnchor:"top",dy:-16,textAnchor:"start",fontSize:11.5,fill:"#444"})
  ]}),370,530);

// D
const cols=[0,1,2,3];
const cells=cols.flatMap(c=>markers[c].map((m,r)=>({c,r,m,dir:directions[c][r],bold:emphasis[c][r],ax:arrowCols[c][r],ay:rowCentres[r]})));
const arrowSegs=cells.flatMap(d=>{
  const up=d.dir==="up",down=d.dir==="down";
  if(up)return[{x1:d.ax,x2:d.ax,y1:d.ay+9,y2:d.ay-11}];
  if(down)return[{x1:d.ax,x2:d.ax,y1:d.ay-8,y2:d.ay+13}];
  if(d.dir==="rise")return[{x1:d.ax-7,x2:d.ax+7,y1:d.ay+8,y2:d.ay-8}];
  return[{x1:d.ax,x2:d.ax-9.5,y1:d.ay,y2:d.ay},{x1:d.ax,x2:d.ax+9.5,y1:d.ay,y2:d.ay}];
});
put(Plot.plot({width:771,height:250,margin:0,
  style:{fontFamily:sans},
  x:{domain:[0,771],axis:null},y:{domain:[1040,790],range:[250,0],axis:null},
  marks:[
    Plot.rect(cols,{x1:c=>colEdges[c],x2:c=>colEdges[c+1],y1:()=>800,y2:()=>870,fill:c=>headColors[c]}),
    Plot.rect(cols,{x1:c=>colEdges[c],x2:c=>colEdges[c+1],y1:()=>870,y2:()=>1040,fill:c=>bodyColors[c]}),
    Plot.text(cols,{x:c=>colCentres[c],y:()=>835,text:c=>explained[c],fill:"white",fontSize:16,lineHeight:1.22}),
    Plot.text(cells.filter(d=>!d.bold),{x:d=>colCentres[d.c],y:d=>rowCentres[d.r],text:"m",fontSize:17,fill:"#000"}),
    Plot.text(cells.filter(d=>d.bold),{x:d=>colCentres[d.c],y:d=>rowCentres[d.r],text:"m",fontSize:16.5,fontWeight:700,fill:"#000"}),
    Plot.arrow(arrowSegs,{x1:"x1",y1:"y1",x2:"x2",y2:"y2",stroke:"#000",strokeWidth:1.5,headLength:7,headAngle:50})
  ]}),0,790);
</script></body></html>
